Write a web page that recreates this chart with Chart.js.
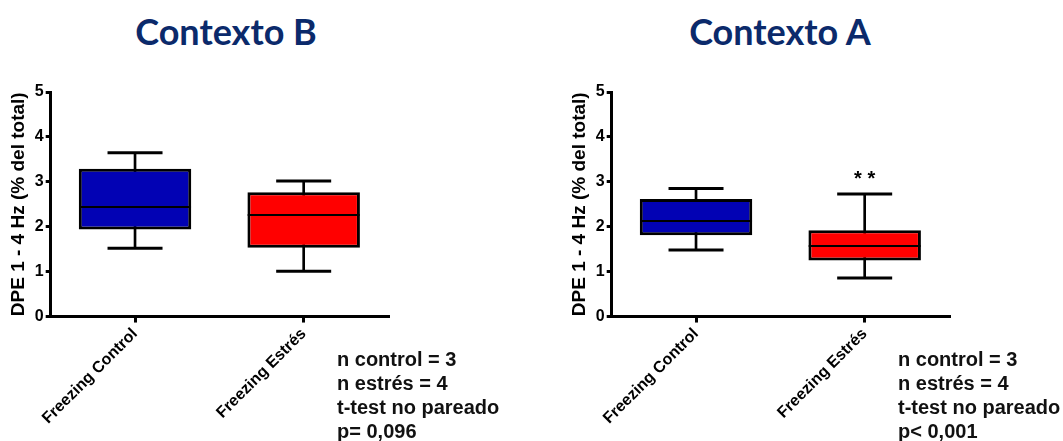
<!DOCTYPE html>
<html>
<head>
<meta charset="utf-8">
<script src="https://cdn.jsdelivr.net/npm/chart.js@4"></script>
<style>
    body { margin: 0; background: #fff; width: 1063px; height: 441px; position: relative; overflow: hidden; }
    .title { position: absolute; top: 9px; font: bold 36px Lato, sans-serif; color: #0b2a6b; text-align: center; width: 340px; }
    .box { position: absolute; top: 60px; width: 400px; height: 381px; }
    .notes { position: absolute; top: 347px; font: bold 20px "Liberation Sans", Arial, sans-serif; line-height: 24px; color: #111; z-index: 2; }
</style>
</head>
<body>
<div class="title" style="left: 56px;">Contexto B</div>
<div class="title" style="left: 610px;">Contexto A</div>
<div class="box" style="left: 0;"><canvas id="chartB"></canvas></div>
<div class="box" style="left: 561px;"><canvas id="chartA"></canvas></div>
<div class="notes" style="left: 337px;">n control = 3<br>n estrés = 4<br>t-test no pareado<br>p= 0,096</div>
<div class="notes" style="left: 898px;">n control = 3<br>n estrés = 4<br>t-test no pareado<br>p&lt; 0,001</div>
<script>
// Categories shared by both panels
const categories = ['Freezing Control', 'Freezing Estrés'];

// Contexto B box plot values
const bMin = [1.52, 1.01];
const bQ1 = [1.94, 1.53];
const bMedian = [2.44, 2.26];
const bQ3 = [3.29, 2.77];
const bMax = [3.65, 3.02];
const bMarks = ['', ''];

// Contexto A box plot values
const aMin = [1.48, 0.86];
const aQ1 = [1.81, 1.25];
const aMedian = [2.13, 1.57];
const aQ3 = [2.62, 1.92];
const aMax = [2.85, 2.73];
const aMarks = ['', '* *'];
const markLevel = 3.05;

// Y axis
const yMin = 0;
const yMax = 5;
const yStep = 1;
const yTitle = 'DPE 1 - 4 Hz (% del total)';

const boxColors = ['#0202b4', '#ff0000'];

Chart.defaults.font.family = '"Liberation Sans", Arial, sans-serif';
Chart.defaults.font.weight = 'bold';
Chart.defaults.color = '#000';

/**
 * Draws the significance marks above the boxes.
 */
const marksPlugin = {
    id: 'marks',
    afterDatasetsDraw(chart, args, opts) {
        const ctx = chart.ctx;
        ctx.save();
        ctx.font = 'bold 20px "Liberation Sans", Arial, sans-serif';
        ctx.fillStyle = '#000';
        ctx.textAlign = 'center';
        ctx.textBaseline = 'middle';
        (opts.labels || []).forEach((label, i) => {
            if (label) {
                ctx.fillText(label, chart.scales.x.getPixelForValue(i), chart.scales.y.getPixelForValue(opts.level));
            }
        });
        ctx.restore();
    }
};

function makeBoxChart(id, min, q1, median, q3, max, marks) {
    const lineMark = (data, radius, width) => ({
        type: 'line',
        data: data,
        showLine: false,
        pointStyle: 'line',
        pointRadius: radius,
        pointHoverRadius: radius,
        pointBorderWidth: width,
        pointBorderColor: '#000',
        order: 1
    });
    new Chart(document.getElementById(id), {
        type: 'bar',
        data: {
            labels: categories,
            datasets: [
                {
                    // whisker stems
                    data: categories.map((c, i) => [min[i], max[i]]),
                    backgroundColor: '#000',
                    barThickness: 2,
                    grouped: false,
                    order: 3
                },
                {
                    // boxes
                    data: categories.map((c, i) => [q1[i], q3[i]]),
                    backgroundColor: boxColors,
                    borderColor: '#000',
                    borderWidth: 3,
                    borderSkipped: false,
                    categoryPercentage: 1,
                    barPercentage: 0.667,
                    grouped: false,
                    order: 2
                },
                lineMark(min, 27.5, 3),
                lineMark(max, 27.5, 3),
                lineMark(median, 56, 2)
            ]
        },
        options: {
            responsive: true,
            maintainAspectRatio: false,
            animation: false,
            events: [],
            layout: { autoPadding: false, padding: { top: 32, right: 12, bottom: 11, left: 4 } },
            plugins: {
                legend: { display: false },
                tooltip: { enabled: false },
                marks: { labels: marks, level: markLevel }
            },
            scales: {
                x: {
                    border: { color: '#000', width: 3 },
                    grid: { offset: false, drawOnChartArea: false, color: '#000', lineWidth: 3, tickLength: 6 },
                    ticks: { minRotation: 45, maxRotation: 45, font: { size: 16, weight: 'bold' }, padding: 2 }
                },
                y: {
                    min: yMin,
                    max: yMax,
                    border: { color: '#000', width: 3 },
                    grid: { drawOnChartArea: false, color: '#000', lineWidth: 3, tickLength: 5 },
                    ticks: { stepSize: yStep, font: { size: 16, weight: 'bold' }, padding: 2 },
                    title: { display: true, text: yTitle, font: { size: 19, weight: 'bold' }, padding: 3 }
                }
            }
        },
        plugins: [marksPlugin]
    });
}

makeBoxChart('chartB', bMin, bQ1, bMedian, bQ3, bMax, bMarks);
makeBoxChart('chartA', aMin, aQ1, aMedian, aQ3, aMax, aMarks);
</script>
</body>
</html>
